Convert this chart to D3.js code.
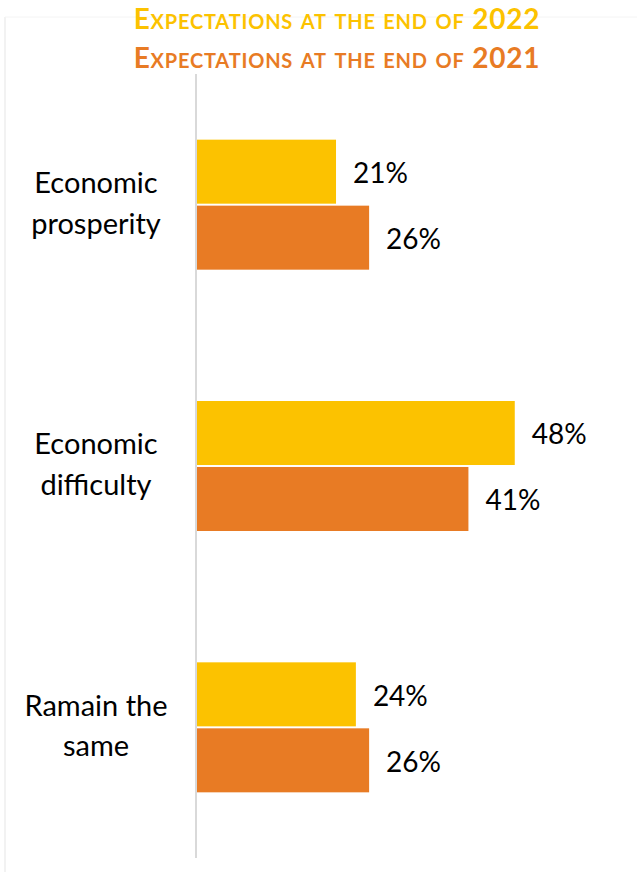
<!DOCTYPE html>
<html>
<head>
<meta charset="utf-8">
<script src="https://cdn.jsdelivr.net/npm/d3@7"></script>
<style>
  body { margin: 0; background: #fff; }
  text { font-family: Lato, "Open Sans", sans-serif; }
</style>
</head>
<body>
<div id="chart"></div>
<script>
const categories = [["Economic", "prosperity"], ["Economic", "difficulty"], ["Ramain the", "same"]];
const series = ["2022", "2021"];
const values2022 = [21, 48, 24];
const values2021 = [26, 41, 26];
const titles = [
  { pre: "Expectations at the end of ", year: "2022" },
  { pre: "Expectations at the end of ", year: "2021" }
];

const WIDTH = 637, HEIGHT = 872;
const COLORS = { "2022": "#FCC200", "2021": "#E87B24" };
const MARGIN = { top: 74, left: 197, bottom: 14, right: 20 };

const svg = d3.select("#chart").append("svg")
  .attr("width", WIDTH)
  .attr("height", HEIGHT);

// faint frame
svg.append("line").attr("x1", 5).attr("x2", 5).attr("y1", 17).attr("y2", HEIGHT)
  .attr("stroke", "#f2f2f2").attr("stroke-width", 2);
svg.append("line").attr("x1", 5).attr("x2", WIDTH).attr("y1", 17).attr("y2", 17)
  .attr("stroke", "#f4f4f4").attr("stroke-width", 1);

const y0 = d3.scaleBand()
  .domain(d3.range(categories.length))
  .range([MARGIN.top, HEIGHT - MARGIN.bottom]);

const x = d3.scaleLinear()
  .domain([0, 10])
  .range([0, 66.2]);

const y1 = d3.scaleBand()
  .domain(series)
  .range([0, 130])
  .paddingInner(0.03);

const data = categories.map((c, i) => ({ i, vals: [
  { s: "2022", v: values2022[i] },
  { s: "2021", v: values2021[i] }
]}));

const groups = svg.selectAll("g.group")
  .data(data)
  .enter().append("g")
  .attr("class", "group")
  .attr("transform", d => `translate(${MARGIN.left},${y0(d.i) + y0.bandwidth() / 2 - 65})`);

groups.selectAll("rect")
  .data(d => d.vals)
  .enter().append("rect")
  .attr("x", 0)
  .attr("y", d => y1(d.s))
  .attr("width", d => x(d.v))
  .attr("height", y1.bandwidth())
  .attr("fill", d => COLORS[d.s]);

groups.selectAll("text.val")
  .data(d => d.vals)
  .enter().append("text")
  .attr("class", "val")
  .attr("x", d => x(d.v) + 17)
  .attr("y", d => y1(d.s) + y1.bandwidth() / 2)
  .attr("dy", "0.4em")
  .attr("font-size", 28)
  .attr("fill", "#000")
  .text(d => d.v + "%");

// axis line
svg.append("line")
  .attr("x1", MARGIN.left - 1).attr("x2", MARGIN.left - 1)
  .attr("y1", MARGIN.top).attr("y2", HEIGHT - MARGIN.bottom)
  .attr("stroke", "#d9d9d9").attr("stroke-width", 2);

// category labels
const cat = svg.selectAll("text.cat")
  .data(categories)
  .enter().append("text")
  .attr("class", "cat")
  .attr("text-anchor", "middle")
  .attr("font-size", 29)
  .attr("fill", "#000")
  .attr("y", (d, i) => y0(i) + y0.bandwidth() / 2);
cat.selectAll("tspan")
  .data(d => d)
  .enter().append("tspan")
  .attr("x", 96)
  .attr("dy", (d, j) => j === 0 ? "-0.4em" : "1.4em")
  .text(d => d);

// titles
const t = svg.selectAll("text.title")
  .data(titles)
  .enter().append("text")
  .attr("class", "title")
  .attr("x", 337)
  .attr("y", (d, i) => 29 + i * 39)
  .attr("text-anchor", "middle")
  .attr("font-weight", "bold")
  .attr("font-size", 28)
  .attr("letter-spacing", 0.8)
  .attr("fill", (d, i) => COLORS[series[i]]);
t.append("tspan").attr("font-variant", "small-caps").text(d => d.pre);
t.append("tspan").text(d => d.year);
</script>
</body>
</html>
